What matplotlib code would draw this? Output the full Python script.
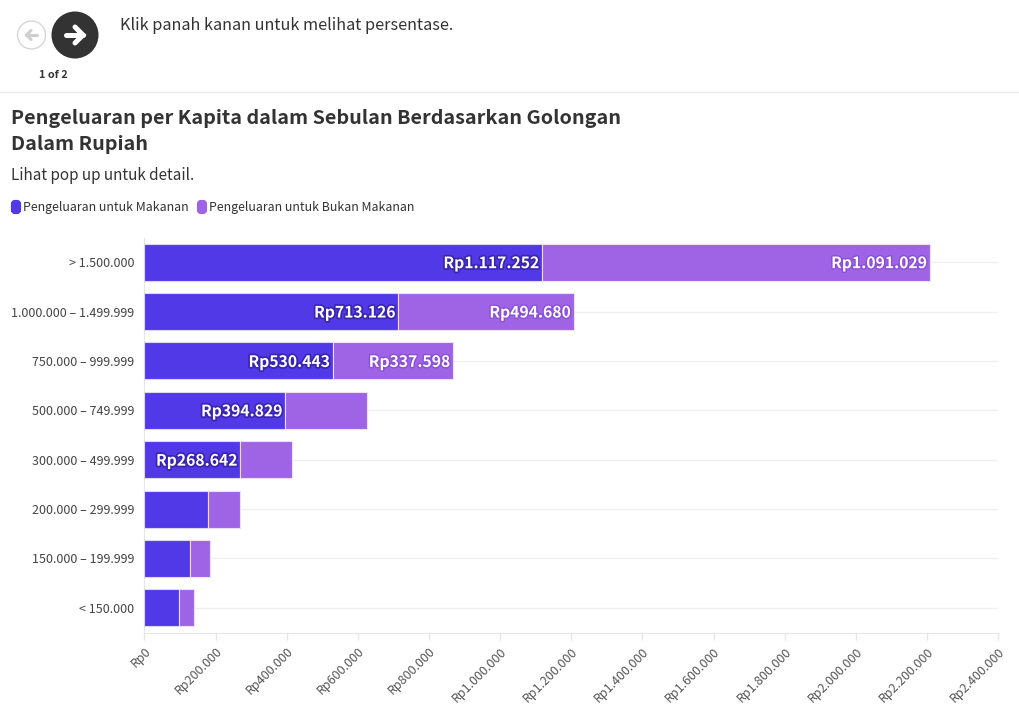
import matplotlib
matplotlib.use("Agg")
import matplotlib.pyplot as plt
import matplotlib.patheffects as pe
from matplotlib.patches import Circle, FancyBboxPatch
import numpy as np

categories = ["> 1.500.000", "1.000.000 – 1.499.999", "750.000 – 999.999", "500.000 – 749.999",
              "300.000 – 499.999", "200.000 – 299.999", "150.000 – 199.999", "< 150.000"]
food = [1117252, 713126, 530443, 394829, 268642, 178000, 127000, 98000]
nonfood = [1091029, 494680, 337598, 231000, 146000, 90000, 56000, 42000]
food_labels = ["Rp1.117.252", "Rp713.126", "Rp530.443", "Rp394.829", "Rp268.642", "", "", ""]
nonfood_labels = ["Rp1.091.029", "Rp494.680", "Rp337.598", "", "", "", "", ""]
xticks = list(range(0, 2400001, 200000))
xticklabels = ["Rp0"] + [f"Rp{v:,}".replace(",", ".") for v in xticks[1:]]
series_names = ["Pengeluaran untuk Makanan", "Pengeluaran untuk Bukan Makanan"]
title_lines = ["Pengeluaran per Kapita dalam Sebulan Berdasarkan Golongan", "Dalam Rupiah"]
subtitle = "Lihat pop up untuk detail."
prompt = "Klik panah kanan untuk melihat persentase."
pager = "1 of 2"

plt.rcParams["font.family"] = ["Noto Sans CJK SC", "DejaVu Sans"]
C1, C2 = "#5239e8", "#9f64e6"
DARK = "#333333"
W, H = 1020, 718
fig = plt.figure(figsize=(W/100, H/100), dpi=100, facecolor="white")

# page overlay in pixel coordinates
pg = fig.add_axes([0, 0, 1, 1], zorder=0)
pg.set_xlim(0, W); pg.set_ylim(H, 0); pg.axis("off")
pg.plot([0, W], [92, 92], color="#e8e8e8", lw=1)
pg.add_patch(Circle((31.5, 35), 14, fc="white", ec="#d6d6d6", lw=1))
pg.add_patch(Circle((75, 35), 23.5, fc=DARK, ec="none"))
def arrow(x0, x1, head, color, lw):
    d = 1 if x1 > x0 else -1
    pg.plot([x0, x1], [35, 35], color=color, lw=lw, solid_capstyle="round", zorder=4)
    pg.plot([x1-d*head, x1, x1-d*head], [35-head, 35, 35+head], color=color, lw=lw,
            solid_capstyle="round", solid_joinstyle="miter", zorder=4)
arrow(37, 26.5, 4.5, "#cfcfcf", 2.2)
arrow(66, 83, 8, "white", 3.6)
pg.text(53.5, 74.5, pager, ha="center", va="center", fontsize=7.8, fontweight="bold", color=DARK)
pg.text(120, 26, prompt, ha="left", va="center", fontsize=11.7, color=DARK)
pg.text(11.5, 118.5, title_lines[0], ha="left", va="center", fontsize=14.25, fontweight="bold", color=DARK)
pg.text(11.5, 144.5, title_lines[1], ha="left", va="center", fontsize=14.25, fontweight="bold", color=DARK)
pg.text(11.5, 175.5, subtitle, ha="left", va="center", fontsize=11.0, color=DARK)
for x0, c, name in [(11, C1, series_names[0]), (197, C2, series_names[1])]:
    pg.add_patch(FancyBboxPatch((x0+2, 202), 6, 10, boxstyle="round,pad=0,rounding_size=2", mutation_aspect=1,
                                fc=c, ec=c, lw=3))
    pg.text(x0+12.5, 208, name, ha="left", va="center", fontsize=8.9, color=DARK)

# chart
ax = fig.add_axes([144.5/W, 1-632.5/H, (998-144.5)/W, (632.5-237.5)/H], zorder=1)
ax.patch.set_alpha(0)
y = np.arange(len(categories))
ax.set_ylim(len(categories)-0.5, -0.5)
ax.set_xlim(0, 2400000)
ax.barh(y, food, height=0.75, color=C1, edgecolor="#dcd6fa", linewidth=0.8, zorder=3)
ax.barh(y, nonfood, left=food, height=0.75, color=C2, edgecolor="#ecdffa", linewidth=0.8, zorder=3)
ax.set_yticks(y, categories, fontsize=9.0, color="#444444")
ax.set_xticks(xticks, xticklabels, fontsize=9.0, color="#555555", rotation=45, ha="right", rotation_mode="anchor")
ax.grid(axis="y", color="#f0f0f0", lw=1, zorder=0)
ax.tick_params(axis="y", length=0, pad=7.5)
ax.tick_params(axis="x", length=5, color="#e6e6e6", width=1, pad=4)
for s in ["top", "right"]:
    ax.spines[s].set_visible(False)
for s in ["left", "bottom"]:
    ax.spines[s].set_color("#e6e6e6")
for i in y:
    if food_labels[i]:
        ax.annotate(food_labels[i], (food[i], i), xytext=(-2, -0.7), textcoords="offset points", ha="right", va="center",
                    fontsize=11.3, fontweight="bold", color="white", zorder=5,
                    path_effects=[pe.withStroke(linewidth=2.5, foreground="#3a25b0")])
    if nonfood_labels[i]:
        ax.annotate(nonfood_labels[i], (food[i]+nonfood[i], i), xytext=(-2.2, -0.7), textcoords="offset points", ha="right", va="center",
                    fontsize=11.3, fontweight="bold", color="white", zorder=5,
                    path_effects=[pe.withStroke(linewidth=2, foreground="#8a4fd6")])

fig.savefig("out.png", dpi=100, facecolor="white")
